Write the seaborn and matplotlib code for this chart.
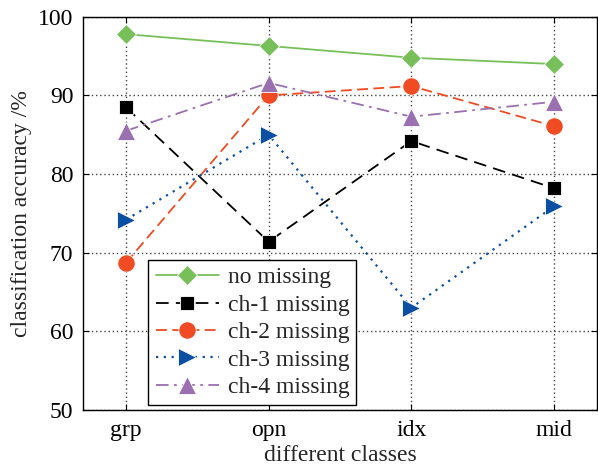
import matplotlib
matplotlib.use("Agg")
import matplotlib.pyplot as plt
import seaborn as sns
import pandas as pd

categories = ["grp", "opn", "idx", "mid"]
no_missing = [97.8, 96.3, 94.8, 94.0]
ch1_missing = [88.5, 71.4, 84.2, 78.2]
ch2_missing = [68.7, 90.0, 91.2, 86.1]
ch3_missing = [74.2, 85.0, 63.0, 75.9]
ch4_missing = [85.5, 91.6, 87.3, 89.2]
series_names = ["no missing", "ch-1 missing", "ch-2 missing", "ch-3 missing", "ch-4 missing"]
yticks = [50, 60, 70, 80, 90, 100]

sns.set_theme(style="white")
plt.rcParams["font.family"] = ["Liberation Serif", "DejaVu Serif"]
plt.rcParams["mathtext.fontset"] = "stix"

fig = plt.figure(figsize=(5.98, 4.68), dpi=100)
ax = fig.add_axes([0.139, 0.124, 0.859, 0.840])

all_series = [no_missing, ch1_missing, ch2_missing, ch3_missing, ch4_missing]
styles = [
    dict(color="#77c059", marker="D", ls="-", ms=10, lw=1.3),
    dict(color="black", marker="s", ls=(0, (7, 4)), ms=10, lw=1.3),
    dict(color="#f04b22", marker="o", ls=(0, (6, 3)), ms=12.5, lw=1.3),
    dict(color="#0b4fa3", marker=">", ls=(0, (1, 2.5)), ms=12.5, lw=1.6),
    dict(color="#9b70b1", marker="^", ls=(0, (7, 3, 1.5, 3)), ms=12.5, lw=1.3),
]
xpos = list(range(len(categories)))
for name, vals, st in zip(series_names, all_series, styles):
    df = pd.DataFrame({"x": xpos, "y": vals})
    sns.lineplot(data=df, x="x", y="y", ax=ax, color=st["color"], marker=st["marker"],
                 linestyle=st["ls"], markersize=st["ms"], linewidth=st["lw"],
                 markeredgecolor="white", markeredgewidth=0.6, label=name)

ax.set_xlim(-0.3, len(categories) - 0.7)
ax.set_ylim(50, 100)
ax.set_xticks(xpos)
ax.set_xticklabels(categories)
ax.set_yticks(yticks)
ax.grid(True, color="#444444", linestyle=(0, (1, 2)), linewidth=1.0)
for s in ax.spines.values():
    s.set_color("black")
    s.set_linewidth(1.0)
ax.tick_params(direction="in", length=4, width=0.8, bottom=True, left=True, top=True, right=True,
               labelsize=17, color="black", labelcolor="black", pad=7)
ax.set_xlabel("different classes", fontsize=17, labelpad=3)
ax.set_ylabel("classification accuracy /%", fontsize=17, labelpad=4)

leg = ax.legend(loc="lower left", bbox_to_anchor=(0.118, 0.0), fontsize=17, frameon=True,
                fancybox=False, edgecolor="black", framealpha=1, borderpad=0.3,
                labelspacing=0.25, handlelength=2.7, handletextpad=0.35, borderaxespad=0.2)
leg.get_frame().set_linewidth(1.0)

fig.savefig("out.png", dpi=100)
